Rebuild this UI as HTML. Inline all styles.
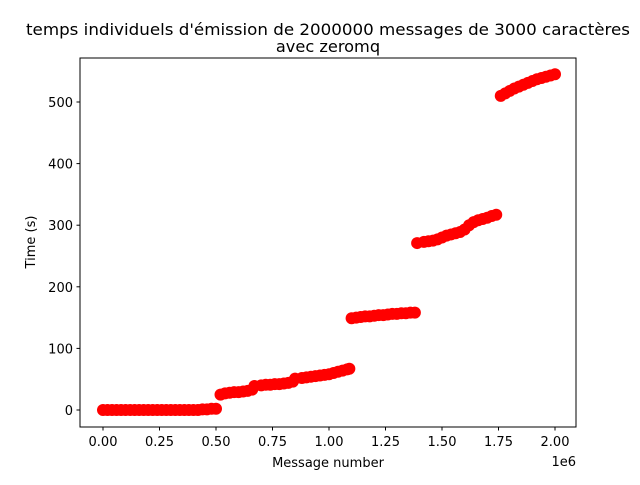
<!DOCTYPE html>
<html><head><meta charset="utf-8"><style>
html,body{margin:0;padding:0;background:#fff;}
svg text{font-family:"DejaVu Sans","Liberation Sans",sans-serif;fill:#000;}
</style></head><body>
<svg id="chart" width="640" height="480" xmlns="http://www.w3.org/2000/svg">
<rect width="640" height="480" fill="#fff"/>
<text x="328" y="35" font-size="16.2" text-anchor="middle" textLength="604" lengthAdjust="spacingAndGlyphs">temps individuels d'émission de 2000000 messages de 3000 caractères</text>
<text x="328" y="52" font-size="16.2" text-anchor="middle">avec zeromq</text>
<g id="marks"></g>
<rect x="80" y="58" width="496" height="369" fill="none" stroke="#000" stroke-width="1"/>
<g id="axes"></g>
<text x="328" y="467" font-size="13" text-anchor="middle">Message number</text>
<text x="576" y="466" font-size="13" text-anchor="end">1e6</text>
<text x="0" y="0" font-size="13" text-anchor="middle" transform="translate(35,242) rotate(-90)">Time (s)</text>
</svg>
<script>
const xValues = [0,0.02,0.04,0.06,0.08,0.10,0.12,0.14,0.16,0.18,0.20,0.22,0.24,0.26,0.28,0.30,0.32,0.34,0.36,0.38,0.40,0.42,0.44,0.46,0.48,0.50,
0.52,0.54,0.56,0.58,0.60,0.62,0.64,0.66,
0.67,0.70,0.72,0.74,0.76,0.78,0.80,0.82,0.84,
0.85,0.88,0.90,0.92,0.94,0.96,0.98,1.00,1.02,1.04,1.06,1.08,1.09,
1.10,1.12,1.14,1.16,1.18,1.20,1.22,1.24,1.26,1.28,1.30,1.32,1.34,1.36,1.38,
1.39,1.42,1.44,1.46,1.48,1.50,1.52,1.54,1.56,1.58,1.60,1.62,1.64,1.66,1.68,1.70,1.72,1.74,
1.76,1.78,1.80,1.82,1.84,1.86,1.88,1.90,1.92,1.94,1.96,1.98,2.00];
const yValues = [0,0,0,0,0,0,0,0,0,0,0,0,0,0,0,0,0,0,0,0,0,0,1,1,2,2,
25,27,28,29,29,30,31,33,
39,40,41,41,42,42,43,44,46,
51,52,53,54,55,56,57,58,60,62,64,66,67,
149,150,151,152,152,153,154,154,155,156,156,157,157,158,158,
271,273,274,275,277,280,283,285,287,289,293,300,305,308,310,312,315,317,
510,514,518,522,525,528,531,534,537,539,541,543,545];
const xTicks = [0,0.25,0.5,0.75,1.0,1.25,1.5,1.75,2.0];
const xTickLabels = ["0.00","0.25","0.50","0.75","1.00","1.25","1.50","1.75","2.00"];
const yTicks = [0,100,200,300,400,500];
const yTickLabels = ["0","100","200","300","400","500"];
const NS = "http://www.w3.org/2000/svg";
function sx(v){return 103 + v*(555-103)/2;}
function sy(v){return 410 - v*(410-102)/500;}
const marks = document.getElementById('marks');
for (let i=0;i<xValues.length;i++){
  const c = document.createElementNS(NS,'circle');
  c.setAttribute('cx', sx(xValues[i]));
  c.setAttribute('cy', sy(yValues[i]));
  c.setAttribute('r', 6);
  c.setAttribute('fill', '#ff0000');
  
  
  marks.appendChild(c);
}
const axes = document.getElementById('axes');
xTicks.forEach((t,i)=>{
  const x = sx(t);
  const l = document.createElementNS(NS,'line');
  l.setAttribute('x1',x);l.setAttribute('x2',x);l.setAttribute('y1',427);l.setAttribute('y2',430.5);
  l.setAttribute('stroke','#000');
  
  
  axes.appendChild(l);
  const tx = document.createElementNS(NS,'text');
  tx.setAttribute('x',x);tx.setAttribute('y',446);tx.setAttribute('font-size','13');tx.setAttribute('text-anchor','middle');
  tx.textContent = xTickLabels[i];
  
  
  axes.appendChild(tx);
});
yTicks.forEach((t,i)=>{
  const y = sy(t);
  const l = document.createElementNS(NS,'line');
  l.setAttribute('x1',76.5);l.setAttribute('x2',80);l.setAttribute('y1',y);l.setAttribute('y2',y);
  l.setAttribute('stroke','#000');
  
  
  axes.appendChild(l);
  const tx = document.createElementNS(NS,'text');
  tx.setAttribute('x',73);tx.setAttribute('y',y+5);tx.setAttribute('font-size','13');tx.setAttribute('text-anchor','end');
  tx.textContent = yTickLabels[i];
  
  
  axes.appendChild(tx);
});
</script>
</body></html>
